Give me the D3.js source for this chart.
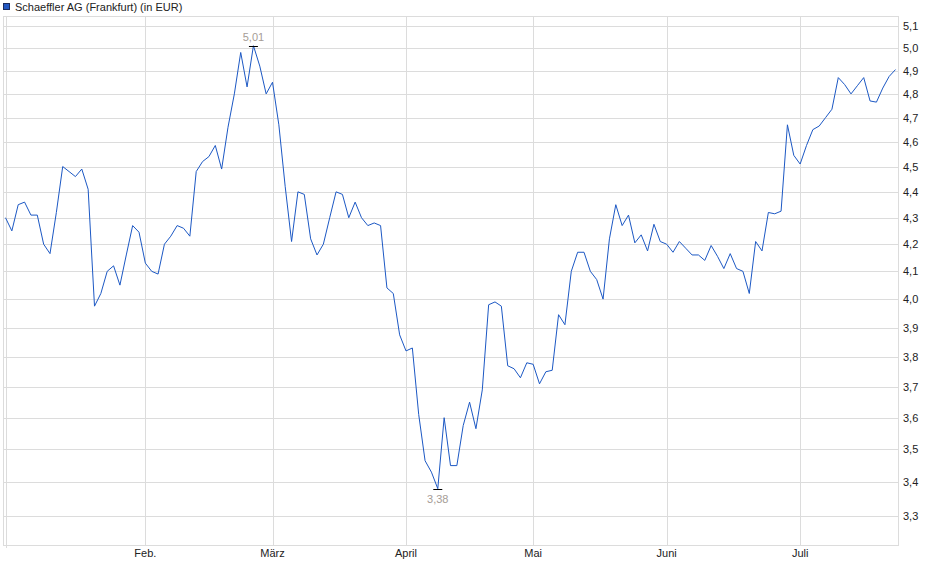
<!DOCTYPE html>
<html>
<head>
<meta charset="utf-8">
<style>
    body { margin: 0; background: #fff; }
    svg { display: block; font-family: "Liberation Sans", Arial, sans-serif; }
</style>
</head>
<body>
<svg width="940" height="579"></svg>
<script src="https://d3js.org/d3.v7.min.js"></script>
<script>
    // closing prices, one per trading day (2 Jan .. 22 Jul)
    const closes = [
        4.30, 4.25, 4.35, 4.36, 4.31, 4.31, 4.20, 4.165, 4.32, 4.50,
        4.48, 4.46, 4.49, 4.41, 3.975, 4.02, 4.10, 4.12, 4.05, 4.16,
        4.27, 4.245, 4.13, 4.10, 4.09, 4.20, 4.23, 4.27, 4.26, 4.23,
        4.48, 4.52, 4.54, 4.585, 4.49, 4.66, 4.80, 4.98, 4.83, 5.01,
        4.92, 4.80, 4.85, 4.67, 4.42, 4.21, 4.40, 4.39, 4.22, 4.16,
        4.20, 4.30, 4.40, 4.39, 4.30, 4.36, 4.30, 4.27, 4.28, 4.27,
        4.04, 4.02, 3.875, 3.82, 3.83, 3.61, 3.465, 3.43, 3.38, 3.60,
        3.45, 3.45, 3.575, 3.65, 3.565, 3.69, 3.98, 3.99, 3.975, 3.77,
        3.76, 3.73, 3.78, 3.775, 3.71, 3.75, 3.755, 3.945, 3.91, 4.10,
        4.17, 4.17, 4.10, 4.07, 4.00, 4.22, 4.35, 4.27, 4.31, 4.205,
        4.235, 4.175, 4.275, 4.21, 4.20, 4.17, 4.21, 4.185, 4.16, 4.16,
        4.14, 4.195, 4.155, 4.11, 4.165, 4.11, 4.10, 4.02, 4.21, 4.175,
        4.32, 4.315, 4.325, 4.67, 4.545, 4.51, 4.585, 4.65, 4.665, 4.70,
        4.735, 4.87, 4.84, 4.80, 4.835, 4.87, 4.77, 4.765, 4.825, 4.875,
        4.905
    ];

    // first trading day of each month (index into closes)
    const monthIdx = [0, 22, 42, 63, 83, 104, 125];
    const monthLabels = ["", "Feb.", "März", "April", "Mai", "Juni", "Juli"];

    const yTicks = [3.3, 3.4, 3.5, 3.6, 3.7, 3.8, 3.9, 4.0, 4.1, 4.2, 4.3, 4.4, 4.5, 4.6, 4.7, 4.8, 4.9, 5.0, 5.1];

    const title = "Schaeffler AG (Frankfurt) (in EUR)";

    const plot = {left: 3, right: 898, top: 16, bottom: 545};
    const gridColor = "#dcdcdc";
    const lineColor = "#1c58c4";

    const svg = d3.select("svg");

    const x = d3.scaleLinear()
        .domain([0, closes.length - 1])
        .range([5.5, 895.5]);

    const y = d3.scaleLog()
        .domain([3.215, 5.144])
        .range([plot.bottom, plot.top]);

    const fmt = d => d3.format(".1f")(d).replace(".", ",");
    const fmt2 = d => d3.format(".2f")(d).replace(".", ",");

    // horizontal grid
    svg.append("g")
        .attr("stroke", gridColor)
        .selectAll("line")
        .data(yTicks)
        .join("line")
        .attr("x1", plot.left)
        .attr("x2", plot.right + 1)
        .attr("y1", d => Math.round(y(d)) + 0.5)
        .attr("y2", d => Math.round(y(d)) + 0.5);

    // vertical grid at month starts
    svg.append("g")
        .attr("stroke", gridColor)
        .selectAll("line")
        .data(monthIdx)
        .join("line")
        .attr("x1", d => Math.round(x(d)) + 0.5)
        .attr("x2", d => Math.round(x(d)) + 0.5)
        .attr("y1", plot.top)
        .attr("y2", (d, i) => i === 0 ? plot.bottom + 3 : plot.bottom);

    // frame
    svg.append("rect")
        .attr("x", plot.left + 0.5)
        .attr("y", plot.top + 0.5)
        .attr("width", plot.right - plot.left)
        .attr("height", plot.bottom - plot.top)
        .attr("fill", "none")
        .attr("stroke", gridColor);

    // right axis labels
    svg.append("g")
        .attr("font-size", 11)
        .attr("fill", "#222")
        .selectAll("text")
        .data(yTicks)
        .join("text")
        .attr("x", plot.right + 5)
        .attr("y", d => y(d) + 4)
        .text(fmt);

    // month labels
    svg.append("g")
        .attr("font-size", 11)
        .attr("fill", "#222")
        .attr("text-anchor", "middle")
        .selectAll("text")
        .data(monthIdx.filter((d, i) => monthLabels[i] !== ""))
        .join("text")
        .attr("x", d => x(d))
        .attr("y", 557)
        .text(d => monthLabels[monthIdx.indexOf(d)]);

    // price line
    const line = d3.line()
        .x((d, i) => x(i))
        .y(d => y(d));

    svg.append("path")
        .datum(closes)
        .attr("fill", "none")
        .attr("stroke", lineColor)
        .attr("stroke-width", 1)
        .attr("stroke-linejoin", "round")
        .attr("d", line);

    // high / low markers
    const hi = d3.maxIndex(closes);
    const lo = d3.minIndex(closes);
    const marks = [
        {i: hi, v: closes[hi], dy: -5},
        {i: lo, v: closes[lo], dy: 14}
    ];

    const mg = svg.append("g");
    mg.selectAll("line")
        .data(marks)
        .join("line")
        .attr("x1", d => x(d.i) - 4.5)
        .attr("x2", d => x(d.i) + 4.5)
        .attr("y1", d => Math.round(y(d.v)) + 0.5)
        .attr("y2", d => Math.round(y(d.v)) + 0.5)
        .attr("stroke", "#000");

    mg.selectAll("text")
        .data(marks)
        .join("text")
        .attr("x", d => x(d.i))
        .attr("y", d => y(d.v) + d.dy)
        .attr("text-anchor", "middle")
        .attr("font-size", 11)
        .attr("fill", "#a59c96")
        .text(d => fmt2(d.v));

    // legend
    svg.append("rect")
        .attr("x", 3.5)
        .attr("y", 3.5)
        .attr("width", 6)
        .attr("height", 6)
        .attr("fill", "#2258c2")
        .attr("stroke", "#1b2c5e");

    svg.append("text")
        .attr("x", 15)
        .attr("y", 10.5)
        .attr("font-size", 11)
        .attr("fill", "#222")
        .text(title);
</script>
</body>
</html>
